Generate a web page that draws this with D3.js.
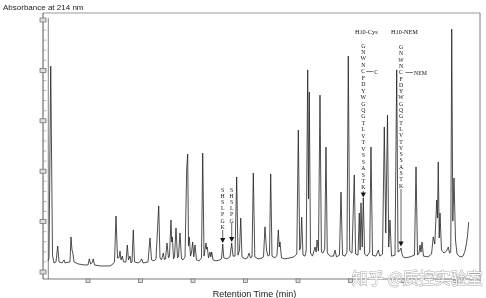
<!DOCTYPE html>
<html>
<head>
<meta charset="utf-8">
<script src="https://cdn.jsdelivr.net/npm/d3@7"></script>
<style>
  body { margin: 0; background: #fff; }
  text { will-change: transform; }
</style>
</head>
<body>
<svg id="chart" width="486" height="298"></svg>
<script>
// chromatogram readings: retention time (min) and absorbance (AU)
const retentionMin = [
  2.38, 2.57, 2.90, 3.10, 3.24, 3.52, 3.90, 4.23, 4.48, 5.05, 5.43, 5.62,
  6.57, 6.76, 6.95, 7.09, 7.33, 8.10, 9.24, 10.00, 10.25, 10.48, 10.76, 11.01,
  11.24, 12.29, 14.19, 14.76, 15.05, 15.33, 15.62, 15.90, 16.10, 16.29, 16.53, 16.76,
  17.24, 17.49, 17.71, 18.00, 18.19, 18.38, 18.63, 18.86, 19.52, 19.90, 20.23, 20.48,
  21.43, 21.81, 22.10, 22.57, 22.95, 23.47, 23.71, 24.00, 24.34, 24.57, 24.76, 25.05,
  25.33, 25.52, 25.81, 25.94, 26.06, 26.29, 26.48, 26.76, 27.05, 27.24, 27.52, 27.81,
  28.10, 28.48, 28.80, 28.99, 29.14, 29.30, 29.52, 29.71, 29.94, 30.15, 30.38, 30.67,
  31.14, 31.62, 31.85, 32.10, 32.48, 32.59, 32.72, 32.95, 33.24, 33.39, 33.56, 33.81,
  34.38, 35.14, 35.43, 35.66, 35.87, 36.48, 37.05, 37.37, 37.62, 38.00, 38.32, 38.57,
  38.86, 39.09, 39.33, 39.90, 40.38, 40.67, 40.95, 41.24, 41.49, 41.77, 42.38, 43.14,
  43.43, 43.71, 44.00, 44.29, 44.57, 44.80, 45.05, 45.62, 46.00, 46.25, 46.42, 46.57,
  46.86, 47.52, 48.48, 49.24, 49.77, 50.06, 50.32, 50.50, 50.70, 50.95, 51.33, 51.56,
  51.85, 52.00, 52.15, 52.38, 52.76, 53.24, 53.47, 53.63, 53.90, 54.19, 54.46, 54.76,
  55.09, 55.33, 55.58, 56.10, 56.76, 57.05, 57.33, 57.90, 58.19, 58.48, 58.95, 59.33,
  59.58, 59.85, 60.29, 60.72, 60.97, 61.43, 61.68, 61.83, 62.00, 62.23, 62.44, 62.69,
  63.14, 63.66, 63.90, 64.19, 64.86, 65.30, 65.58, 66.10, 66.44, 66.72, 67.05, 67.28,
  67.52, 67.81, 68.48, 68.80, 69.05, 69.33, 69.62, 69.90, 70.38, 71.33, 72.19, 72.48,
  72.76, 73.05, 73.24, 73.43, 73.62, 73.90, 74.76, 75.43, 75.77, 76.06, 76.42, 76.57,
  76.72, 76.90, 77.05, 77.33, 77.81, 78.29, 78.63, 78.86, 79.10, 79.28, 79.49, 79.71,
  80.00, 80.29, 80.86, 81.43, 81.81, 82.13, 82.29, 82.51
];
const absorbanceAU = [
  0.044, 0.056, 0.817, 0.373, 0.067, 0.036, 0.040, 0.103, 0.040, 0.036, 0.048, 0.036,
  0.040, 0.139, 0.087, 0.079, 0.040, 0.032, 0.028, 0.028, 0.052, 0.032, 0.036, 0.052,
  0.028, 0.024, 0.024, 0.032, 0.040, 0.222, 0.056, 0.056, 0.083, 0.048, 0.063, 0.040,
  0.040, 0.107, 0.048, 0.063, 0.036, 0.040, 0.167, 0.040, 0.036, 0.040, 0.052, 0.036,
  0.040, 0.135, 0.048, 0.044, 0.052, 0.262, 0.056, 0.048, 0.075, 0.048, 0.052, 0.115,
  0.056, 0.063, 0.206, 0.119, 0.139, 0.052, 0.060, 0.175, 0.056, 0.060, 0.155, 0.052,
  0.048, 0.060, 0.409, 0.468, 0.103, 0.139, 0.063, 0.075, 0.119, 0.060, 0.107, 0.048,
  0.044, 0.056, 0.472, 0.063, 0.115, 0.091, 0.099, 0.056, 0.079, 0.060, 0.079, 0.048,
  0.044, 0.048, 0.052, 0.111, 0.056, 0.052, 0.060, 0.115, 0.063, 0.063, 0.377, 0.067,
  0.087, 0.214, 0.060, 0.052, 0.056, 0.075, 0.056, 0.060, 0.393, 0.060, 0.052, 0.056,
  0.060, 0.179, 0.087, 0.063, 0.067, 0.389, 0.063, 0.056, 0.067, 0.167, 0.099, 0.119,
  0.056, 0.052, 0.056, 0.060, 0.071, 0.563, 0.087, 0.099, 0.218, 0.067, 0.063, 0.083,
  0.802, 0.290, 0.714, 0.075, 0.063, 0.099, 0.079, 0.127, 0.083, 0.702, 0.079, 0.075,
  0.091, 0.496, 0.075, 0.063, 0.063, 0.087, 0.060, 0.067, 0.317, 0.067, 0.063, 0.079,
  0.857, 0.083, 0.075, 0.385, 0.071, 0.067, 0.234, 0.087, 0.274, 0.099, 0.294, 0.071,
  0.063, 0.079, 0.496, 0.067, 0.063, 0.087, 0.063, 0.071, 0.575, 0.155, 0.623, 0.099,
  0.206, 0.063, 0.067, 0.802, 0.079, 0.083, 0.095, 0.063, 0.056, 0.060, 0.067, 0.417,
  0.067, 0.075, 0.107, 0.079, 0.119, 0.063, 0.060, 0.071, 0.139, 0.111, 0.286, 0.214,
  0.437, 0.135, 0.234, 0.087, 0.075, 0.083, 0.099, 0.075, 0.079, 0.964, 0.202, 0.373,
  0.127, 0.071, 0.060, 0.063, 0.083, 0.119, 0.143, 0.198
];

const timeTicks = [10, 20, 30, 40, 50, 60, 70, 80];
const auTicks = [0, 0.2, 0.4, 0.6, 0.8, 1.0];

// peptide labels: retention time of the marked peak
const h10Sequence = "GNWNCFDYWGQGTLVTVSSASTK".split("");
const shslpgk = "SHSLPGK".split("");
const shslpg = "SHSLPG".split("");
const markedPeaks = [35.66, 37.37, 62.44, 69.62];

const svg = d3.select("#chart");

const x = d3.scaleLinear().domain([0, 80]).range([35.5, 455.5]);
const y = d3.scaleLinear().domain([0, 1]).range([272, 20]);

const frameL = 43, frameR = 480, frameT = 13, frameB = 279;
const frameColor = "#7a7a7a";

// frame
svg.append("line").attr("x1", frameL).attr("x2", frameR).attr("y1", frameT).attr("y2", frameT)
  .attr("stroke", "#999").attr("stroke-width", 1.2);
svg.append("line").attr("x1", frameR).attr("x2", frameR).attr("y1", frameT).attr("y2", frameB + 2)
  .attr("stroke", frameColor).attr("stroke-width", 1);
svg.append("line").attr("x1", frameL).attr("x2", frameR).attr("y1", frameB).attr("y2", frameB)
  .attr("stroke", frameColor).attr("stroke-width", 1);
svg.append("line").attr("x1", frameL).attr("x2", frameL).attr("y1", frameT).attr("y2", frameB)
  .attr("stroke", "#555").attr("stroke-width", 1);
svg.append("line").attr("x1", 48.3).attr("x2", 48.3).attr("y1", 18).attr("y2", frameB)
  .attr("stroke", "#666").attr("stroke-width", 0.8);

// minor ticks on the absorbance axis
svg.append("g").selectAll("line")
  .data(d3.range(0, 1.0001, 0.04))
  .enter().append("line")
    .attr("x1", frameL).attr("x2", frameL + 3.5)
    .attr("y1", d => y(d)).attr("y2", d => y(d))
    .attr("stroke", "#888").attr("stroke-width", 0.6);

// major tick markers (empty boxes)
svg.append("g").selectAll("rect")
  .data(auTicks)
  .enter().append("rect")
    .attr("x", frameL - 3).attr("y", d => y(d) - 2)
    .attr("width", 6).attr("height", 4)
    .attr("fill", "#ddd").attr("stroke", "#666").attr("stroke-width", 0.7);

svg.append("g").selectAll("rect")
  .data(timeTicks)
  .enter().append("rect")
    .attr("x", d => x(d) - 2).attr("y", frameB)
    .attr("width", 4).attr("height", 3.5)
    .attr("fill", "#ddd").attr("stroke", "#666").attr("stroke-width", 0.7);

// trace
const trace = d3.zip(retentionMin, absorbanceAU);
const line = d3.line()
  .x(d => x(d[0]))
  .y(d => y(d[1]));

svg.append("path")
  .datum(trace)
  .attr("d", line)
  .attr("fill", "none")
  .attr("stroke", "#222")
  .attr("stroke-width", 0.8)
  .attr("stroke-linejoin", "miter");

// titles
svg.append("text")
  .attr("x", 3).attr("y", 10)
  .attr("font-family", "Liberation Sans, Arial, sans-serif")
  .attr("font-size", 8).attr("fill", "#222")
  .text("Absorbance at 214 nm");

svg.append("text")
  .attr("x", 254.5).attr("y", 296.5)
  .attr("text-anchor", "middle")
  .attr("font-family", "Liberation Sans, Arial, sans-serif")
  .attr("font-size", 9).attr("fill", "#222")
  .text("Retention Time (min)");

// annotations
const serif = "Liberation Serif, Times New Roman, serif";
const ann = svg.append("g").attr("font-family", serif).attr("fill", "#111").attr("opacity", 0.99);

function column(letters, cx, y0, step) {
  ann.append("g").selectAll("text")
    .data(letters)
    .enter().append("text")
      .attr("x", cx).attr("y", (d, i) => y0 + i * step)
      .attr("text-anchor", "middle")
      .attr("font-size", 5.8)
      .text(d => d);
}

function arrow(cx, tipY, fromY) {
  if (fromY !== undefined) {
    ann.append("line").attr("x1", cx).attr("x2", cx).attr("y1", fromY).attr("y2", tipY - 4)
      .attr("stroke", "#222").attr("stroke-width", 0.7);
  }
  ann.append("path")
    .attr("d", `M${cx - 2.6},${tipY - 5}L${cx + 2.6},${tipY - 5}L${cx},${tipY}Z`)
    .attr("fill", "#111");
}

function apexAt(t) {
  return absorbanceAU[retentionMin.indexOf(t)];
}

// SHSLPGK / SHSLPG
const sx1 = x(markedPeaks[0]), sx2 = x(markedPeaks[1]);
column(shslpgk, sx1, 192, 6.1);
arrow(sx1, y(apexAt(markedPeaks[0])) - 1, 230);
column(shslpg, sx2, 192, 6.1);
arrow(sx2, y(apexAt(markedPeaks[1])) - 1, 223);

// H10-Cys
const cx1 = x(markedPeaks[2]);
ann.append("text").attr("x", cx1 + 3).attr("y", 33.5).attr("text-anchor", "middle")
  .attr("font-size", 6.3).text("H10-Cys");
column(h10Sequence, cx1, 47.5, 6.45);
ann.append("line").attr("x1", cx1 + 3).attr("x2", cx1 + 10).attr("y1", 71.5).attr("y2", 71.5)
  .attr("stroke", "#222").attr("stroke-width", 0.6);
ann.append("text").attr("x", cx1 + 11).attr("y", 73.5).attr("font-size", 5.8).text("C");
arrow(cx1, y(apexAt(markedPeaks[2])) - 0.5, 191);

// H10-NEM
const cx2 = x(markedPeaks[3]);
ann.append("text").attr("x", cx2 + 3.5).attr("y", 33.5).attr("text-anchor", "middle")
  .attr("font-size", 6.3).text("H10-NEM");
column(h10Sequence, cx2, 49, 6.3);
ann.append("line").attr("x1", cx2 + 4.5).attr("x2", cx2 + 12).attr("y1", 72.5).attr("y2", 72.5)
  .attr("stroke", "#222").attr("stroke-width", 0.6);
ann.append("text").attr("x", cx2 + 13).attr("y", 74.5).attr("font-size", 5.8).text("NEM");
arrow(cx2, y(apexAt(markedPeaks[3])) - 1.5, 189);

// watermark
svg.append("text")
  .attr("x", 352).attr("y", 283.5)
  .attr("font-family", "Noto Sans CJK SC, sans-serif")
  .attr("font-size", 16)
  .attr("fill", "#fff")
  .attr("stroke", "#a0a0a0")
  .attr("stroke-width", 1)
  .attr("paint-order", "stroke")
  .attr("opacity", 0.9)
  .text("知乎 @质控实验室");
</script>
</body>
</html>
